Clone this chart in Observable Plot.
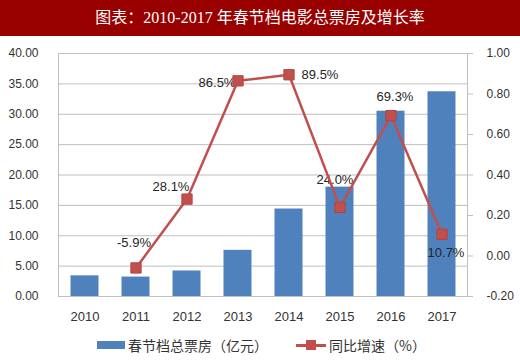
<!DOCTYPE html>
<html>
<head>
<meta charset="utf-8">
<script src="https://cdn.jsdelivr.net/npm/d3@7"></script>
<script src="https://cdn.jsdelivr.net/npm/@observablehq/plot@0.6"></script>
<style>
  html, body { margin: 0; padding: 0; background: #fff; width: 520px; height: 360px; overflow: hidden; }
  #title { height: 36px; line-height: 36px; background: #990000; color: #fff; text-align: center;
           font-family: "Liberation Serif", "Noto Sans CJK SC", serif; font-size: 16px; }
  #legend { height: 30px; display: flex; align-items: center; font-family: "Noto Sans CJK SC", sans-serif;
            font-size: 14px; color: #333; }
  .sw-bar { display: inline-block; width: 28px; height: 8px; background: #4F81BD; margin-right: 3px; }
  .sw-line { position: relative; display: inline-block; width: 30px; height: 12px; margin-right: 3px; }
  .sw-line::before { content: ""; position: absolute; left: 0; right: 0; top: 5px; height: 2.5px; background: #C0504D; }
  .sw-line::after { content: ""; position: absolute; left: 10px; top: 1px; width: 10px; height: 10px; background: #C0504D; }
</style>
</head>
<body>
<div id="title">图表：2010-2017 年春节档电影总票房及增长率</div>
<div id="chart"></div>
<div id="legend">
  <span style="margin-left:97px" class="sw-bar"></span><span>春节档总票房（亿元）</span>
  <span style="margin-left:28px" class="sw-line"></span><span>同比增速（%）</span>
</div>
<script>
const years = ["2010", "2011", "2012", "2013", "2014", "2015", "2016", "2017"];
const boxOffice = [3.4, 3.2, 4.2, 7.6, 14.4, 18.0, 30.5, 33.7];
const growthYears = ["2011", "2012", "2013", "2014", "2015", "2016", "2017"];
const growthRate = [-0.059, 0.281, 0.865, 0.895, 0.240, 0.693, 0.107];
const growthLabels = ["-5.9%", "28.1%", "86.5%", "89.5%", "24.0%", "69.3%", "10.7%"];
const leftTicks = [0, 5, 10, 15, 20, 25, 30, 35, 40];
const rightTicks = [-0.2, 0, 0.2, 0.4, 0.6, 0.8, 1.0];

// right-axis domain [-0.2, 1.0] mapped onto left-axis domain [0, 40]
const toLeft = v => (v + 0.2) / 1.2 * 40;
const fromLeft = v => v / 40 * 1.2 - 0.2;

const bars = years.map((year, i) => ({year, value: boxOffice[i]}));
const line = growthYears.map((year, i) => ({year, value: toLeft(growthRate[i]), label: growthLabels[i]}));

// label offsets (styling)
const placement = {
  "2011": [-2, -25], "2012": [-16, -12], "2013": [-21, 2], "2014": [31, 0],
  "2015": [-5, -28], "2016": [4, -19], "2017": [4, 18]
};

const font = '"Liberation Sans", "Noto Sans", sans-serif';
const labelMarks = line.map(d => Plot.text([d], {
  x: "year", y: "value", text: "label",
  dx: placement[d.year][0], dy: placement[d.year][1],
  fontSize: 13, fill: "#262626", fontFamily: font
}));

const chart = Plot.plot({
  width: 520, height: 294,
  marginLeft: 58, marginRight: 53, marginTop: 17, marginBottom: 34,
  style: {fontFamily: font, fontSize: "12px", color: "#404040", background: "transparent"},
  x: {type: "band", domain: years, padding: 0, axis: null},
  y: {domain: [0, 40], axis: null},
  marks: [
    Plot.gridY(leftTicks, {stroke: "#BFBFBF", strokeOpacity: 1}),
    Plot.frame({stroke: "#BFBFBF"}),
    Plot.axisX({tickSize: 0, tickPadding: 15, fontSize: 13, fill: "#333", label: null}),
    Plot.axisY(leftTicks, {anchor: "left", tickSize: 0, tickPadding: 20, fontSize: 12, fill: "#333",
      label: null, tickFormat: d => d.toFixed(2)}),
    Plot.axisY(rightTicks.map(toLeft), {anchor: "right", tickSize: 5, tickPadding: 14, fontSize: 12,
      fill: "#333", stroke: "#BFBFBF", strokeOpacity: 1, label: null,
      tickFormat: d => (Math.round(fromLeft(d) * 100) / 100).toFixed(2)}),
    Plot.barY(bars, {x: "year", y: "value", fill: "#4F81BD", insetLeft: 11.5, insetRight: 11.5}),
    ...labelMarks,
    Plot.line(line, {x: "year", y: "value", stroke: "#C0504D", strokeWidth: 2.5}),
    Plot.dot(line, {x: "year", y: "value", symbol: "square", r: 5.8, fill: "#C0504D", stroke: "#B5433F", strokeWidth: 1})
  ]
});
document.getElementById("chart").appendChild(chart);
</script>
</body>
</html>
